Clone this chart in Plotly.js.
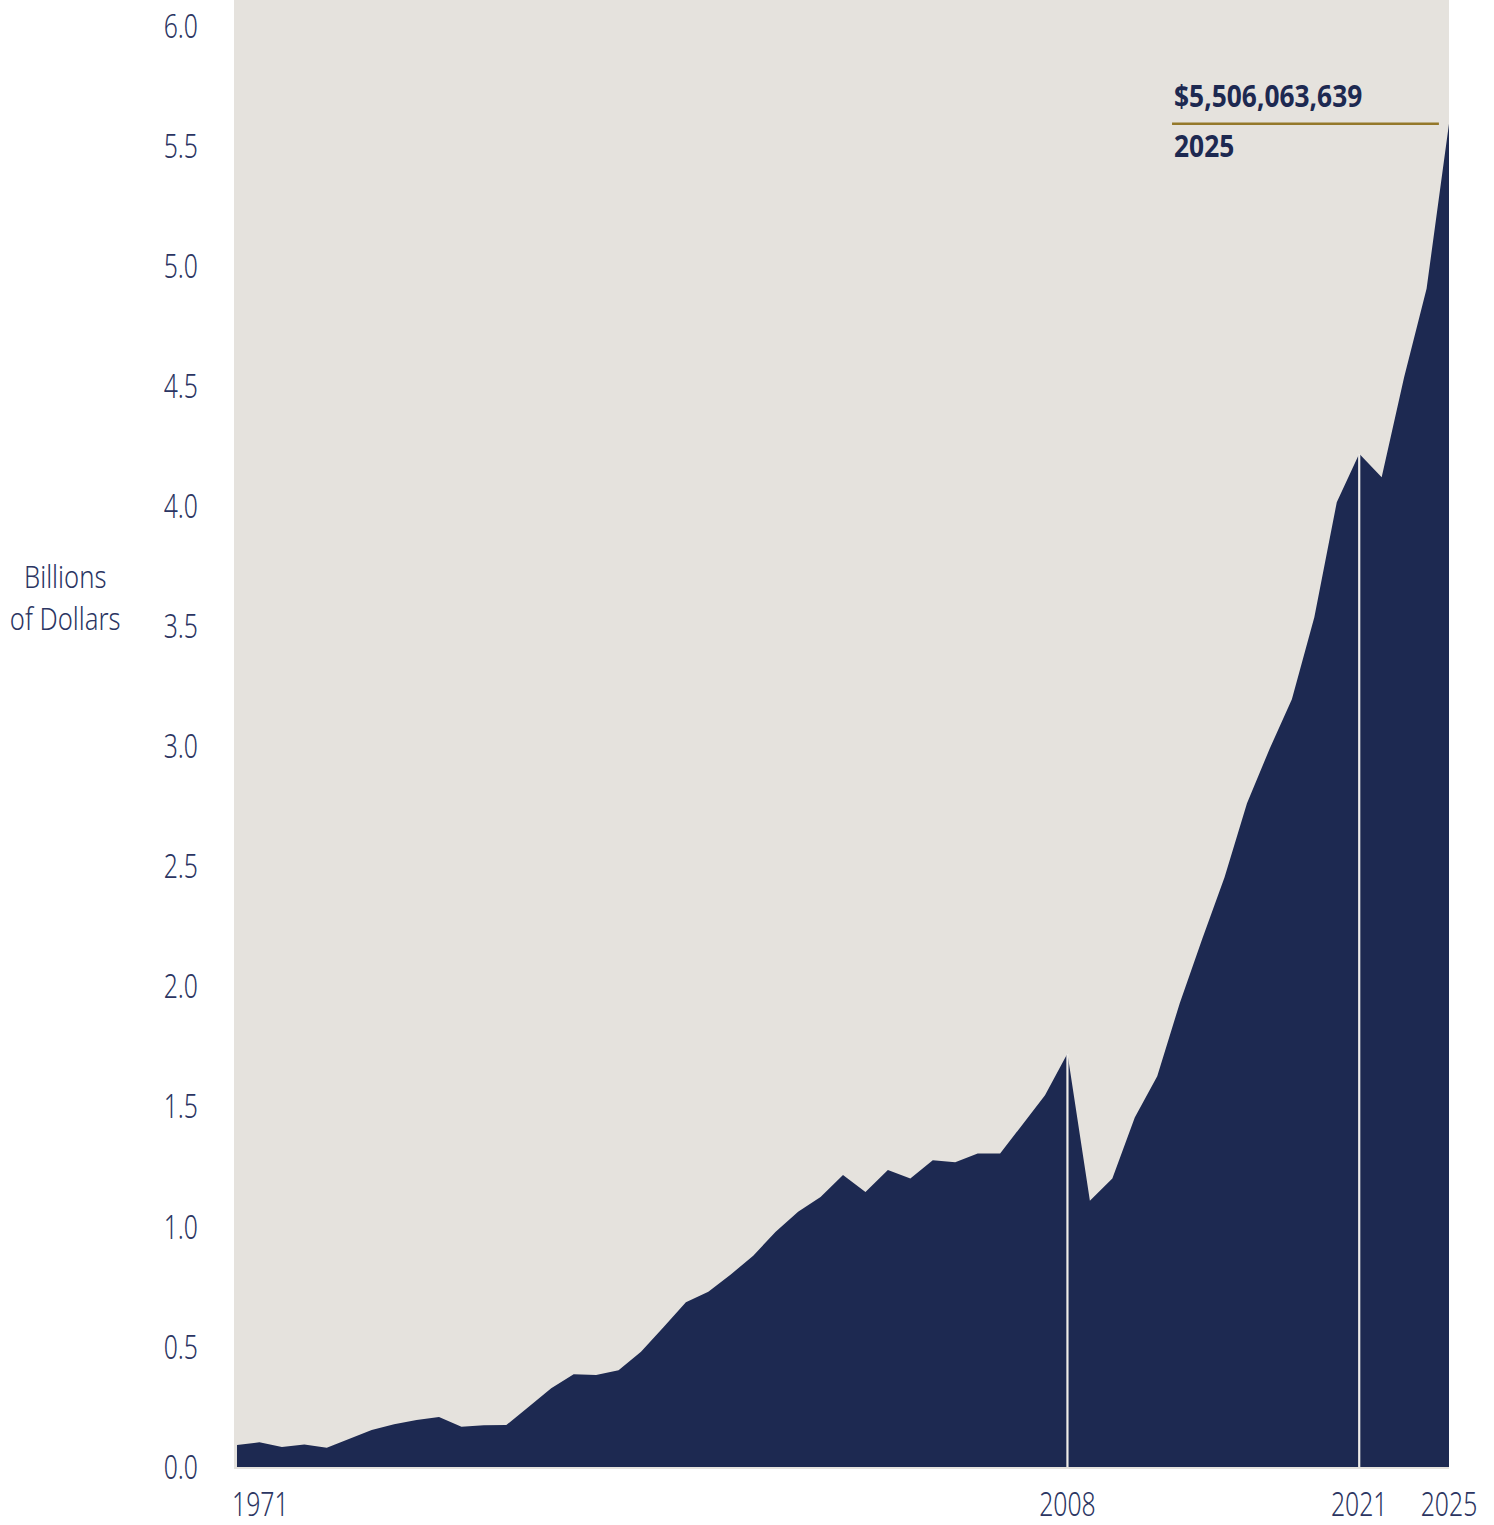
<!DOCTYPE html>
<html>
<head>
<meta charset="utf-8">
<script src="https://cdn.plot.ly/plotly-3.0.1.min.js"></script>
<style>
  html, body { margin: 0; padding: 0; background: #ffffff; }
  #chart { width: 1494px; height: 1525px; }
</style>
</head>
<body>
<div id="chart"></div>
<script>
// ---- Data (billions of dollars) ----
const years = [
  1971, 1972, 1973, 1974, 1975, 1976, 1977, 1978, 1979, 1980,
  1981, 1982, 1983, 1984, 1985, 1986, 1987, 1988, 1989, 1990,
  1991, 1992, 1993, 1994, 1995, 1996, 1997, 1998, 1999, 2000,
  2001, 2002, 2003, 2004, 2005, 2006, 2007, 2008, 2009, 2010,
  2011, 2012, 2013, 2014, 2015, 2016, 2017, 2018, 2019, 2020,
  2021, 2022, 2023, 2024, 2025
];
const values = [
  0.092, 0.103, 0.083, 0.094, 0.080, 0.117, 0.154, 0.178, 0.196, 0.208,
  0.168, 0.174, 0.175, 0.251, 0.328, 0.386, 0.383, 0.403, 0.480, 0.582,
  0.686, 0.730, 0.802, 0.880, 0.980, 1.063, 1.125, 1.216, 1.146, 1.237,
  1.202, 1.278, 1.269, 1.306, 1.306, 1.427, 1.549, 1.722, 1.109, 1.202,
  1.456, 1.628, 1.931, 2.198, 2.457, 2.765, 2.990, 3.198, 3.540, 4.019,
  4.221, 4.123, 4.540, 4.908, 5.595
];
const markedYears = [2008, 2021];
const xTickYears = [2008, 2021, 2025];
const firstYearLabel = "1971";
const yTickVals = [0, 0.5, 1, 1.5, 2, 2.5, 3, 3.5, 4, 4.5, 5, 5.5, 6];
const calloutValueText = "$5,506,063,639";
const calloutYearText = "2025";
const yAxisLabel = "Billions<br>of Dollars";

// ---- Styles ----
const NAVY = "#1d2951";
const TEXT = "#2b3562";
const BG = "#e5e2dd";
const GOLD = "#94782a";
const FONT = "'Noto Sans', 'DejaVu Sans Condensed', sans-serif";

// vertical marker lines built from the data
const mx = [], my = [];
markedYears.forEach(yr => {
  const v = values[years.indexOf(yr)];
  mx.push(yr, yr, null);
  my.push(0, v, null);
});

const lastVal = values[values.length - 1];

const traces = [
  {
    x: years, y: values, type: "scatter", mode: "lines",
    fill: "tozeroy", fillcolor: NAVY,
    line: { width: 0, color: NAVY }, hoverinfo: "x+y", showlegend: false
  },
  {
    x: mx, y: my, type: "scatter", mode: "lines",
    line: { width: 2.2, color: "#eeece8" }, hoverinfo: "skip", showlegend: false
  }
];

const layout = {
  width: 1494, height: 1525,
  margin: { l: 234, r: 45, t: 0, b: 56, pad: 0 },
  paper_bgcolor: "#ffffff",
  plot_bgcolor: BG,
  showlegend: false,
  font: { family: FONT, color: TEXT, weight: 300 },
  xaxis: {
    range: [1970.866, 2025],
    tickvals: xTickYears,
    ticktext: xTickYears.map(String),
    showgrid: false, zeroline: false, showline: false,
    ticks: "", ticklabelstandoff: 13,
    tickfont: { family: FONT, size: 33, color: TEXT, weight: 300 }
  },
  yaxis: {
    range: [-0.0083, 6.111],
    tickvals: yTickVals,
    ticktext: yTickVals.map(v => v.toFixed(1)),
    showgrid: false, zeroline: false, showline: false,
    ticks: "", ticklabelstandoff: 35,
    tickfont: { family: FONT, size: 33, color: TEXT, weight: 300 }
  },
  shapes: [
    {
      type: "line", xref: "x", yref: "y",
      x0: 2012.66, x1: 2024.55, y0: lastVal, y1: lastVal,
      line: { color: GOLD, width: 2.5 }
    }
  ],
  annotations: [
    {
      text: firstYearLabel, xref: "x", yref: "paper",
      x: years[0], y: 0, xanchor: "left", yanchor: "top",
      xshift: -6, yshift: -11, showarrow: false, borderpad: 0,
      font: { family: FONT, size: 33, color: TEXT, weight: 300 }
    },
    {
      text: yAxisLabel, xref: "paper", yref: "paper",
      x: -0.139, y: 0.594, xanchor: "center", yanchor: "middle",
      showarrow: false, align: "center",
      font: { family: FONT, size: 32, color: TEXT, weight: 300 }
    },
    {
      text: calloutValueText, xref: "x", yref: "y",
      x: 2012.66, y: lastVal, xanchor: "left", yanchor: "middle",
      yshift: 29, showarrow: false,
      font: { family: FONT, size: 31, color: NAVY, weight: 700 }
    },
    {
      text: calloutYearText, xref: "x", yref: "y",
      x: 2012.66, y: lastVal, xanchor: "left", yanchor: "middle",
      yshift: -21, showarrow: false,
      font: { family: FONT, size: 31, color: NAVY, weight: 700 }
    }
  ]
};

// horizontally condense text (the reference uses a condensed typeface)
function condense(el, s, pivot) {
  const bb = el.getBBox();
  let px = bb.x + bb.width / 2;
  if (pivot === "left") px = bb.x;
  if (pivot === "right") px = bb.x + bb.width;
  const prev = el.getAttribute("transform") || "";
  el.setAttribute("transform",
    prev + " translate(" + px + ",0) scale(" + s + ",1) translate(" + (-px) + ",0)");
}

Plotly.newPlot("chart", traces, layout, { displayModeBar: false, staticPlot: true })
  .then(gd => {
    gd.querySelectorAll(".ytick text").forEach(t => condense(t, 0.75, "right"));
    gd.querySelectorAll(".xtick text").forEach(t => condense(t, 0.75, "center"));
    const ann = gd.querySelectorAll("g.annotation text.annotation-text");
    const spec = [[0.75, "left"], [0.8, "center"], [0.85, "left"], [0.85, "left"]];
    ann.forEach((t, i) => { if (spec[i]) condense(t, spec[i][0], spec[i][1]); });
  });
</script>
</body>
</html>
